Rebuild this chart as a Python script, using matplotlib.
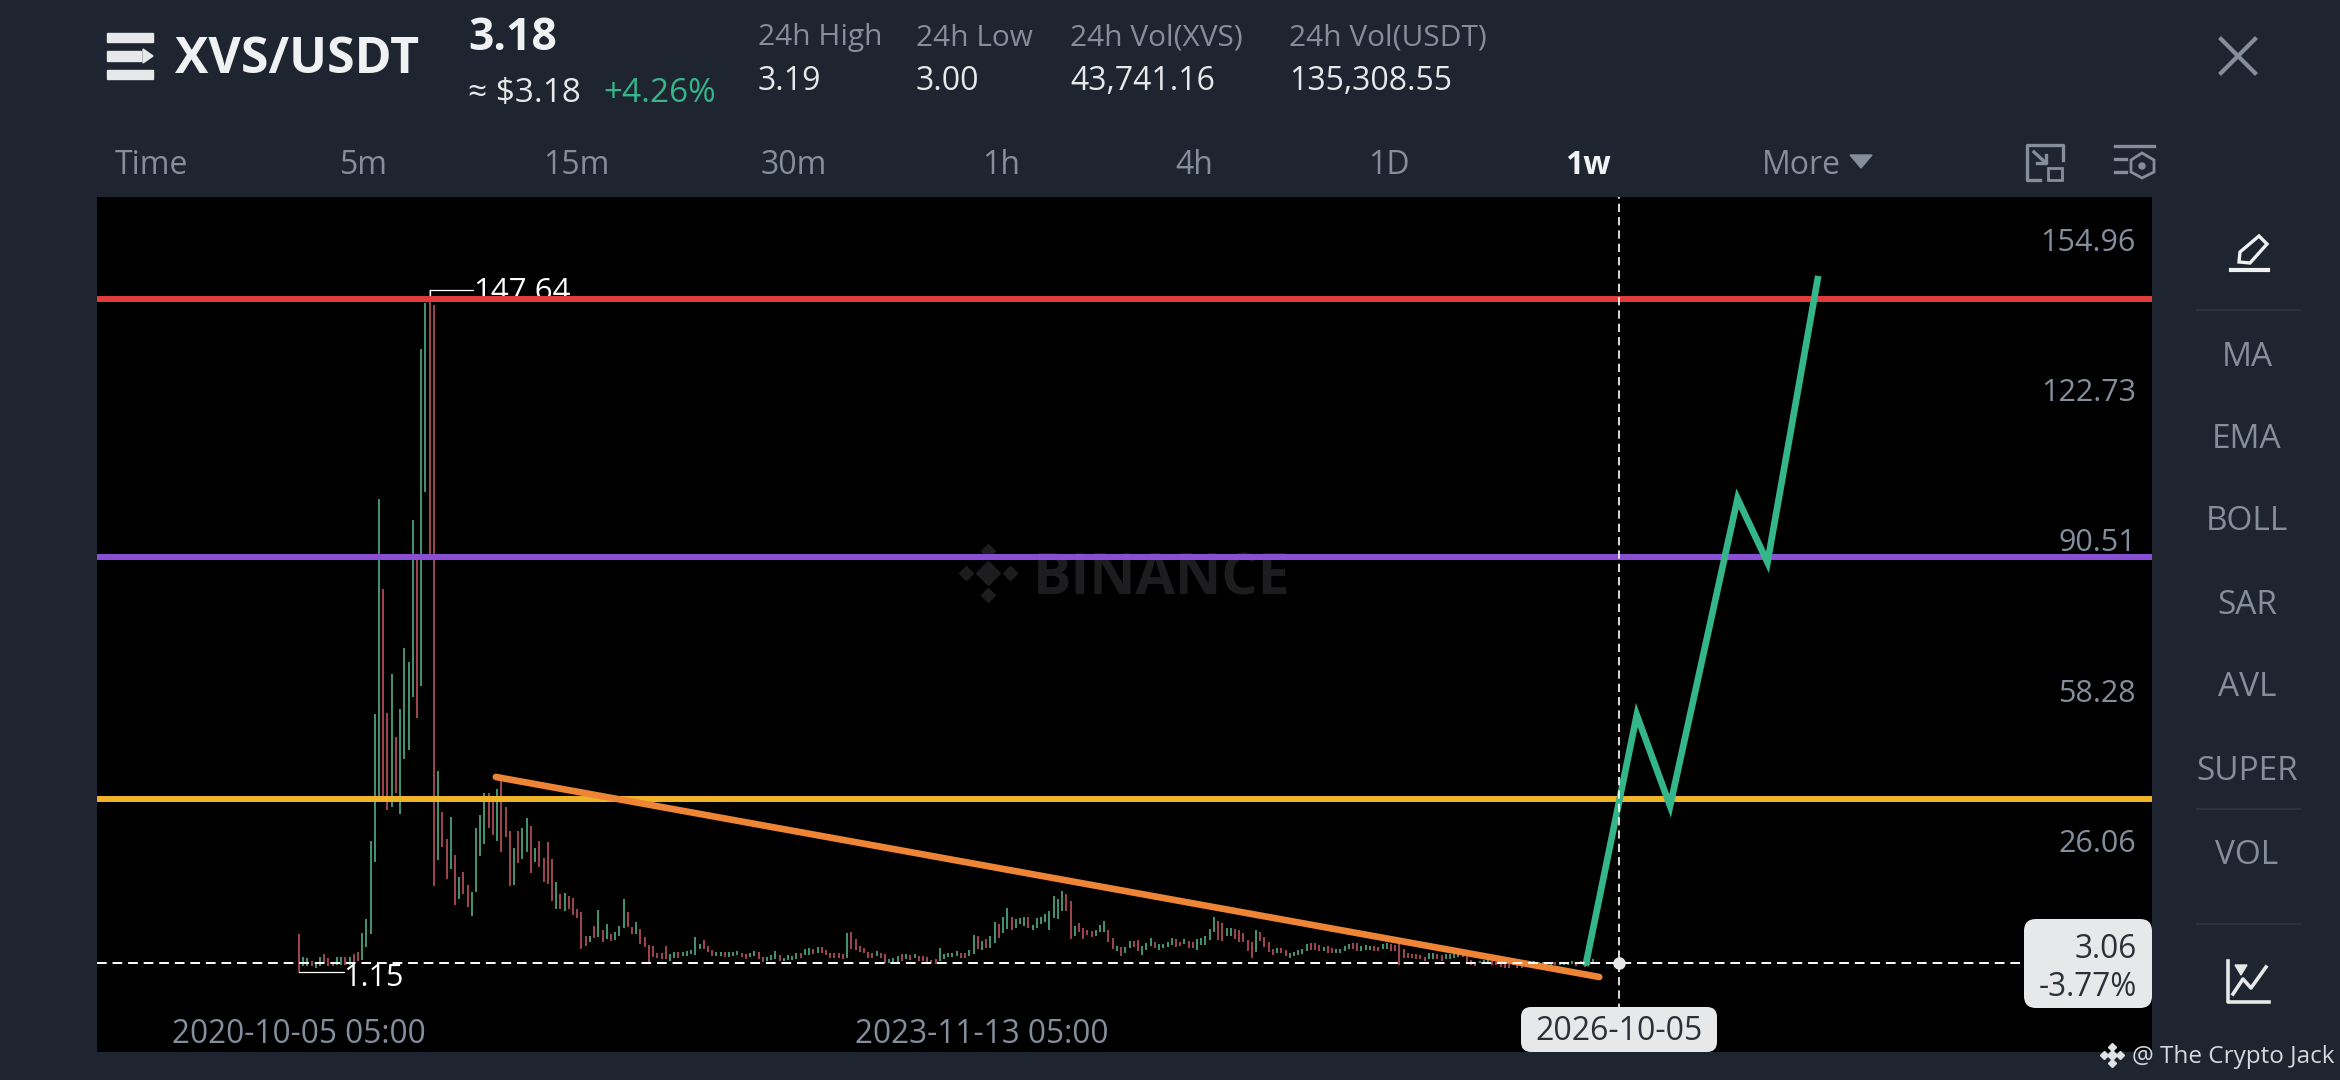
import matplotlib
matplotlib.use('Agg')
import matplotlib.pyplot as plt
from matplotlib.patches import FancyBboxPatch, Polygon, Rectangle, Circle

plt.rcParams['font.family'] = ['Open Sans', 'DejaVu Sans']

# weekly candles
highs = [
    9.27, 4.48, 4.07, 3.54, 3.23, 4.27, 5.11, 4.07, 3.23, 4.48,
    4.27, 4.27, 4.27, 5.11, 5.52, 9.48, 12.60, 29.26, 56.54, 102.67,
    83.40, 56.85, 65.18, 51.65, 57.58, 70.70, 67.79, 98.19, 90.69, 134.94,
    144.84, 147.64, 144.32, 44.36, 35.51, 29.78, 34.47, 26.35, 21.45, 22.70,
    19.89, 18.33, 32.07, 34.78, 39.67, 39.67, 38.63, 40.40, 42.28, 36.55,
    31.34, 27.70, 31.34, 31.99, 34.21, 32.56, 27.69, 29.19, 25.61, 28.98,
    25.40, 20.53, 17.88, 18.02, 17.52, 16.95, 14.66, 13.94, 8.79, 8.93,
    10.94, 14.44, 10.22, 11.44, 9.29, 9.65, 11.08, 16.81, 14.09, 10.72,
    11.80, 10.36, 8.57, 6.93, 6.64, 5.21, 5.21, 6.78, 4.99, 5.49,
    5.49, 5.49, 5.71, 5.92, 8.72, 7.14, 8.00, 6.78, 5.92, 5.49,
    5.49, 5.49, 5.35, 5.49, 5.64, 5.14, 4.92, 5.21, 5.64, 5.35,
    4.42, 4.28, 4.71, 5.64, 4.71, 4.21, 4.78, 4.56, 5.14, 5.14,
    6.00, 6.21, 6.00, 6.43, 6.50, 5.85, 5.28, 5.28, 5.14, 5.06,
    9.43, 9.79, 8.14, 6.71, 6.35, 5.42, 5.28, 5.57, 5.14, 4.92,
    3.85, 4.13, 4.56, 4.92, 5.06, 4.71, 5.06, 4.56, 4.56, 4.35,
    3.70, 3.85, 6.28, 5.06, 5.14, 5.28, 5.64, 5.28, 5.28, 5.85,
    9.00, 8.86, 7.79, 8.29, 8.86, 11.94, 11.37, 13.01, 14.95, 13.01,
    12.58, 12.65, 13.01, 12.87, 11.22, 12.65, 12.87, 13.59, 14.16, 17.52,
    16.81, 18.53, 17.88, 16.45, 10.94, 11.65, 10.51, 10.22, 10.01, 10.22,
    11.22, 12.08, 10.22, 8.36, 6.78, 6.43, 6.43, 7.86, 7.79, 8.07,
    6.64, 7.36, 8.36, 7.64, 7.07, 7.14, 7.50, 8.43, 8.22, 7.64,
    8.22, 7.79, 7.64, 8.22, 8.36, 8.93, 10.36, 13.01, 12.01, 11.65,
    10.51, 10.65, 10.36, 10.22, 9.50, 8.07, 7.50, 10.22, 9.65, 8.57,
    7.50, 6.07, 6.21, 6.28, 5.78, 5.28, 5.42, 5.78, 6.00, 7.21,
    7.43, 7.28, 6.85, 6.43, 6.71, 6.28, 6.00, 6.14, 6.71, 7.14,
    7.28, 7.28, 6.71, 6.85, 6.71, 6.71, 6.57, 7.07, 7.43, 7.07,
    6.93, 7.28, 6.00, 5.14, 4.99, 4.92, 4.85, 4.42, 5.28, 5.14,
    5.06, 4.71, 4.92, 5.06, 5.06, 5.14, 5.28, 5.64, 3.63, 3.27,
    3.49, 3.70, 3.63, 3.49, 3.27, 3.13, 2.77, 2.77, 3.13, 2.99,
    2.77, 3.27, 3.35, 3.42, 3.35, 3.35, 3.27, 3.27, 3.27, 3.35,
    3.27, 3.35, 3.42, 3.13, 3.42, 3.27, 3.42, 3.85,
]
lows = [
    1.15, 2.50, 2.50, 2.40, 1.98, 2.40, 3.02, 2.40, 2.40, 2.71,
    2.71, 2.71, 2.71, 3.23, 3.44, 3.75, 6.56, 9.27, 24.79, 37.59,
    37.59, 36.03, 36.55, 39.67, 34.99, 46.96, 48.84, 60.29, 55.81, 62.58,
    104.23, 90.69, 19.68, 25.10, 28.01, 21.14, 23.22, 15.52, 16.77, 17.81,
    15.21, 13.12, 18.33, 26.14, 28.74, 32.18, 30.51, 29.26, 26.87, 30.10,
    19.58, 19.89, 24.58, 25.40, 26.83, 22.39, 24.83, 23.75, 20.39, 20.03,
    16.45, 14.66, 14.66, 14.30, 14.66, 13.37, 12.65, 6.07, 6.78, 7.50,
    8.36, 8.57, 7.50, 8.22, 7.71, 8.07, 8.93, 10.58, 10.72, 9.29,
    9.29, 7.14, 6.43, 3.06, 4.28, 4.06, 3.92, 3.92, 3.56, 4.06,
    4.06, 4.64, 4.64, 4.99, 4.78, 6.07, 6.07, 5.35, 4.49, 4.64,
    4.49, 4.35, 4.35, 4.49, 4.78, 4.28, 3.92, 4.35, 4.64, 3.92,
    3.20, 3.49, 3.63, 3.99, 3.49, 3.42, 3.70, 3.70, 3.99, 4.13,
    4.85, 4.85, 4.99, 5.28, 5.28, 4.85, 4.06, 4.21, 4.13, 3.99,
    4.21, 6.00, 5.85, 5.49, 5.14, 4.21, 4.21, 4.56, 4.06, 3.13,
    3.13, 3.13, 3.35, 3.49, 3.85, 3.78, 4.06, 3.56, 3.56, 3.13,
    2.99, 2.92, 3.49, 3.85, 4.28, 4.28, 4.56, 4.13, 4.13, 4.56,
    4.92, 6.00, 5.85, 6.28, 6.35, 7.43, 8.50, 9.43, 10.29, 10.15,
    10.65, 11.44, 11.08, 10.51, 10.22, 10.51, 11.37, 11.80, 10.22, 12.65,
    12.51, 14.30, 14.30, 8.22, 8.79, 9.79, 8.22, 9.07, 8.57, 8.93,
    9.65, 9.65, 7.50, 6.07, 5.64, 4.49, 5.21, 6.21, 6.43, 5.71,
    4.78, 5.85, 6.78, 6.21, 5.92, 6.21, 6.43, 7.00, 6.50, 6.78,
    7.14, 6.35, 6.21, 5.92, 6.93, 6.93, 8.07, 9.65, 8.07, 7.79,
    8.79, 8.93, 8.22, 7.64, 7.64, 5.71, 4.13, 5.35, 7.86, 6.43,
    5.35, 4.78, 5.14, 5.28, 4.56, 4.13, 4.56, 4.78, 4.92, 5.71,
    5.85, 5.85, 5.71, 5.57, 5.28, 5.14, 5.14, 5.28, 5.64, 6.00,
    6.00, 5.57, 5.71, 5.85, 5.85, 5.71, 5.57, 6.00, 6.00, 5.64,
    5.57, 2.56, 4.21, 4.21, 4.13, 3.99, 3.85, 3.49, 3.85, 3.99,
    3.85, 3.42, 3.85, 3.99, 4.13, 4.28, 4.42, 3.13, 2.63, 2.42,
    2.99, 2.99, 2.85, 2.70, 2.56, 2.27, 2.06, 1.91, 2.56, 2.06,
    1.91, 2.70, 2.77, 2.85, 2.77, 2.77, 2.85, 2.70, 2.70, 2.70,
    2.70, 2.70, 2.77, 2.42, 2.77, 2.27, 2.70, 2.99,
]
sides = ('rggrggrrrg' 'grgrrggggg' 'rrgrggggrg' 'grrgrrgrgr' 'rggggrrgrr'
         'rgrggrgrrr' 'rgrgrrrrrg' 'rgrgrgggrr' 'grrrrrrrgg' 'rgggggrrrg'
         'grgggrrggr' 'rgggrggggr' 'ggrgrrrrrr' 'grrrrrrgrr' 'gggrgrgrrr'
         'rrgggggrrg' 'grgrggrggr' 'gggrgggggg' 'ggrrgrrrrg' 'ggrrgrggrr'
         'gggrggggrr' 'grrgggggrr' 'ggrrrrrgrr' 'rrgrrggggg' 'rrrgrrgggg'
         'rrgggrrggr' 'rrrrrrrrgg' 'rrggggrrrr' 'gggrrrrrgr' 'rgggggggrg'
         'gggrgrgg')

# drawn levels and trend lines, x in weeks since the first candle
level_red = 145.71
level_purple = 90.18
level_yellow = 38.2
trend_x = [46.7, 308.4]
trend_y = [43.04, 0.08]
path_x = [305.3, 317.3, 325.2, 341.2, 348.3, 360.2]
path_y = [3.17, 56.35, 36.81, 102.81, 89.13, 149.94]

ytick_vals = [154.96, 122.73, 90.51, 58.28, 26.06]
xtick_weeks = [0, 162]
xtick_labels = ['2020-10-05 05:00', '2023-11-13 05:00']
cross_week = 313
cross_price = 3.06

periods = ['5m', '15m', '30m', '1h', '4h', '1D']
period_px = [364, 576, 794, 1001, 1194, 1389]
side_items = ['MA', 'EMA', 'BOLL', 'SAR', 'AVL', 'SUPER', 'VOL']
side_px = [357, 440, 522, 606, 688, 771, 855]
stat_names = ['24h High', '24h Low', '24h Vol(XVS)', '24h Vol(USDT)']
stat_vals = ['3.19', '3.00', '43,741.16', '135,308.55']
stat_px = [758, 916, 1070, 1289]

BG = '#1e2530'
GREY = '#848e9c'
LIGHT = '#e6e8ea'
GREEN = '#35b58a'
MARK = '#1d1d1f'

W, H = 2340, 1080
fig = plt.figure(figsize=(W / 100, H / 100), dpi=100, facecolor=BG)
ax = fig.add_axes([97 / W, 1 - 1052 / H, (2152 - 97) / W, (1052 - 197) / H], facecolor='black')
ax.set_xlim(-47.9, 439.5)
ax.set_ylim(-16.03, 167.6)
for s in ax.spines.values():
    s.set_visible(False)
ax.set_xticks([])
ax.set_yticks([])

assert len(highs) == len(lows) == len(sides)
weeks = list(range(len(highs)))
cols = ['#4a9f7e' if c == 'g' else '#ad4c56' for c in sides]
ax.vlines(weeks, lows, highs, colors=cols, lw=1.3, zorder=2)

# y labels sit a little above their price
for v in ytick_vals:
    ax.annotate(f'{v:.2f}', (1, v), xycoords=('axes fraction', 'data'), xytext=(-11.5, 9),
                textcoords='offset points', ha='right', va='center', color=GREY, fontsize=22, zorder=1)
for w, lab in zip(xtick_weeks, xtick_labels):
    ax.text(w, 0.0205, lab, transform=ax.get_xaxis_transform(), ha='center', va='center',
            color=GREY, fontsize=22.7)

# high and low markers
ax.plot([31, 41.3], [147.64, 147.64], color='white', lw=0.9, zorder=3)
ax.plot([31, 31], [145.7, 147.64], color='white', lw=0.9, zorder=3)
ax.text(41.3, 143.9, '147.64', color='white', fontsize=22.5, va='bottom', ha='left', zorder=3)
ax.plot([0, 10.8], [1.15, 1.15], color='white', lw=0.9, zorder=3)
ax.text(10.6, -0.2, '1.15', color='white', fontsize=22, va='center', ha='left', zorder=3)

# watermark
ax.text(0.4555, 0.5525, 'BINANCE', transform=ax.transAxes, color=MARK, fontsize=41,
        fontweight='bold', ha='left', va='center', zorder=1)
ax.plot([163.4], [86.8], marker='D', ms=12, color=MARK, zorder=1)
for dx, dy in [(-5.2, 0), (5.2, 0), (0, 4.7), (0, -4.7)]:
    ax.plot([163.4 + dx], [86.8 + dy], marker='D', ms=7, color=MARK, zorder=1)

ax.axhline(level_red, color='#e23b3b', lw=4.3, zorder=4)
ax.axhline(level_purple, color='#8a4fd6', lw=4.3, zorder=4)
ax.axhline(level_yellow, color='#f0b429', lw=4.3, zorder=4)
ax.plot(trend_x, trend_y, color='#ee8436', lw=4.8, solid_capstyle='round', zorder=5)
ax.plot(path_x, path_y, color=GREEN, lw=4.8, solid_joinstyle='miter', zorder=6)

ax.axhline(cross_price, color='white', lw=1.4, ls=(0, (5, 3)), zorder=7)
ax.axvline(cross_week, color='white', lw=1.2, ls=(0, (5, 3)), zorder=7)
ax.plot([cross_week], [cross_price], 'o', color=LIGHT, ms=8, zorder=8)

# everything around the chart goes on a pixel overlay
ui = fig.add_axes([0, 0, 1, 1], facecolor='none')
ui.set_xlim(0, W)
ui.set_ylim(H, 0)
ui.axis('off')

# menu logo
for y0, y1, x1 in [(33, 42, 153), (51, 61, 141), (70, 79, 153)]:
    ui.add_patch(Rectangle((107, y0), x1 - 107, y1 - y0, color=LIGHT))
ui.add_patch(Polygon([[143, 49], [153, 56], [143, 63]], color=LIGHT))
ui.text(175, 60, 'XVS/USDT', color='#f0f1f3', fontsize=36, fontweight='bold', va='center')
ui.text(468, 38, '3.18', color='#f0f1f3', fontsize=32, fontweight='bold', va='center')
ui.text(468, 94, '≈ $3.18', color='#e6e8ea', fontsize=24, va='center')
ui.text(603, 94, '+4.26%', color=GREEN, fontsize=24, va='center')
for name, val, x in zip(stat_names, stat_vals, stat_px):
    ui.text(x, 38, name, color=GREY, fontsize=21.5, va='center')
    ui.text(x, 82, val, color='#e6e8ea', fontsize=23, va='center')

ui.text(115, 166, 'Time', color=GREY, fontsize=23, va='center')
for lab, x in zip(periods, period_px):
    ui.text(x, 166, lab, color=GREY, fontsize=23, va='center', ha='center')
ui.text(1588, 166, '1w', color='#f0f1f3', fontsize=23, fontweight='bold', va='center', ha='center')
ui.text(1801, 166, 'More', color=GREY, fontsize=23, va='center', ha='center')
ui.add_patch(Polygon([[1850, 155], [1872, 155], [1861, 168]], color=GREY))

# close cross
ui.plot([2221, 2255], [39, 73], color=GREY, lw=3)
ui.plot([2221, 2255], [73, 39], color=GREY, lw=3)

# toolbar icons
ui.plot([2063, 2063, 2027, 2027, 2040], [160, 145, 145, 180, 180], color=GREY, lw=2.4)
ui.plot([2034, 2046], [152, 163], color=GREY, lw=2.4)
ui.plot([2037, 2046, 2046], [163, 163, 155], color=GREY, lw=2.4)
ui.add_patch(Rectangle((2048, 168), 14, 12, fill=False, ec=GREY, lw=2))
ui.plot([2115, 2154], [146, 146], color=GREY, lw=2.4)
ui.plot([2115, 2126], [159, 159], color=GREY, lw=2.4)
ui.plot([2115, 2126], [172, 172], color=GREY, lw=2.4)
ui.add_patch(Polygon([[2142, 153], [2154, 160], [2154, 172], [2142, 178], [2131, 172], [2131, 160]],
                     fill=False, ec=GREY, lw=2))
ui.add_patch(Circle((2142, 166), 3, color=GREY))

# pencil
ui.plot([2231, 2268], [270, 270], color='#f0f1f3', lw=3)
ui.add_patch(Polygon([[2239, 262], [2240, 252], [2259, 236], [2267, 244], [2250, 263]],
                     fill=False, ec='#f0f1f3', lw=2.4))

for y in [310, 809, 924]:
    ui.plot([2197, 2300], [y, y], color='#2f3742', lw=1.2)
for lab, y in zip(side_items, side_px):
    ui.text(2247, y, lab, color=GREY, fontsize=24, va='center', ha='center')

# small chart icon
ui.plot([2228, 2228, 2269], [961, 1002, 1002], color='#e6e8ea', lw=2.6)
ui.plot([2233, 2243, 2251, 2266], [994, 979, 988, 967], color='#e6e8ea', lw=2.6)
ui.add_patch(Polygon([[2235, 965], [2247, 965], [2241, 975]], color='#e6e8ea'))

# price and date tags
ui.add_patch(FancyBboxPatch((2024, 919), 128, 89, boxstyle='round,pad=0,rounding_size=12', lw=0, fc=LIGHT))
ui.text(2137, 949, '3.06', color='#2b3139', fontsize=22.7, ha='right', va='center')
ui.text(2137, 988, '-3.77%', color='#2b3139', fontsize=22.7, ha='right', va='center')
ui.add_patch(FancyBboxPatch((1521, 1007), 196, 45, boxstyle='round,pad=0,rounding_size=10', lw=0, fc=LIGHT))
ui.text(1619, 1032, '2026-10-05', color='#2b3139', fontsize=23, ha='center', va='center')

# credit
ui.plot([2112], [1055], marker='D', ms=5, color='#e0e2e5')
for dx, dy in [(-8, 0), (8, 0), (0, -8), (0, 8)]:
    ui.plot([2112 + dx], [1055 + dy], marker='D', ms=4, color='#e0e2e5')
ui.text(2132, 1057, '@ The Crypto Jack', color='#d5d8dc', fontsize=17.5, va='center')

fig.savefig('out.png', dpi=100, facecolor=BG)
